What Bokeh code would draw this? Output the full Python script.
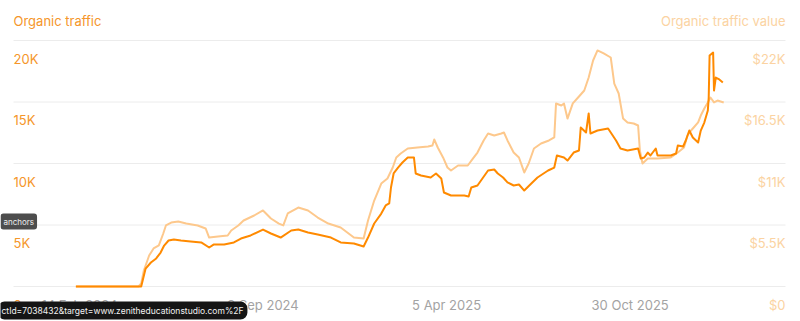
from datetime import datetime, timedelta
import pandas as pd
from bokeh.plotting import figure
from bokeh.core.properties import value as val
from bokeh.models import Range1d, Label, LabelSet, ColumnDataSource
from bokeh.embed import file_html
from bokeh.resources import INLINE

# ---------------- data ----------------
start_date = "2024-02-10"

traffic_days = [0, 74, 79, 85, 91, 96, 100, 105, 111, 119, 130, 142, 151, 156, 168, 179, 187, 198,
                212, 221, 232, 244, 252, 263, 274, 289, 300, 315, 326, 331, 338, 346, 351, 355, 357,
                360, 365, 370, 376, 383, 385, 391, 402, 408, 414, 417, 425, 440, 445, 448, 455, 467,
                474, 478, 484, 489, 496, 502, 508, 516, 523, 535, 542, 545, 553, 557, 564, 570, 572,
                578, 581, 583, 591, 603, 606, 612, 617, 625, 637, 640, 644, 648, 651, 657, 659, 674,
                680, 682, 688, 691, 695, 699, 705, 708, 712, 716, 717, 718, 722, 723, 725, 729, 733]
traffic = [0, 0, 1460, 1950, 2280, 2760, 3330, 3740, 3820, 3740, 3660, 3580, 3170, 3410, 3410, 3580,
           3900, 4150, 4630, 4310, 3980, 4550, 4630, 4390, 4230, 3980, 3580, 3500, 3250, 3980, 5120,
           5930, 6590, 6750, 8050, 9190, 9670, 10080, 10490, 10490, 9190, 9020, 8860, 9190, 8780,
           7640, 7400, 7400, 7320, 8050, 8210, 9430, 9510, 9190, 8860, 8460, 8210, 8290, 7800, 8370,
           8860, 9430, 9670, 10650, 10490, 10240, 10890, 11060, 12930, 12520, 14070, 12440, 12680,
           12850, 12520, 11870, 11220, 11060, 11220, 10410, 10490, 10890, 10650, 11220, 10650,
           10650, 10810, 11460, 11380, 11870, 12680, 12110, 11710, 12680, 13330, 14310, 15370,
           18780, 19020, 15930, 16990, 16830, 16590]

value_days = [0, 71, 74, 77, 83, 88, 94, 99, 102, 108, 116, 125, 138, 147, 151, 161, 172, 176, 184,
              190, 202, 212, 221, 230, 235, 240, 252, 263, 274, 286, 300, 315, 326, 331, 338, 346,
              353, 359, 363, 368, 376, 387, 399, 404, 406, 410, 416, 421, 425, 433, 444, 450, 455,
              462, 467, 474, 482, 485, 489, 496, 502, 508, 513, 519, 527, 536, 542, 544, 550, 553,
              557, 563, 569, 576, 581, 586, 591, 598, 606, 610, 615, 620, 625, 632, 637, 639, 642,
              648, 659, 674, 682, 689, 693, 697, 700, 705, 708, 712, 716, 719, 723, 727, 734]
value = [0, 0, 270, 1430, 2770, 3400, 3670, 4740, 5460, 5720, 5810, 5630, 5460, 5190, 4380, 4470,
         4560, 5010, 5460, 5900, 6350, 6800, 6080, 5630, 5460, 6530, 7060, 6800, 6170, 5630, 5280,
         4380, 4290, 5900, 7690, 9210, 9660, 10640, 11540, 11890, 12340, 12430, 12520, 12610,
         13150, 12430, 11540, 10640, 10370, 10820, 10820, 11450, 11980, 13060, 13680, 13500, 13680,
         13770, 13060, 11980, 11540, 10200, 11000, 12340, 12790, 13060, 13330, 16370, 16190, 16370,
         15020, 16370, 16900, 17530, 18690, 20210, 21110, 20840, 20480, 18150, 17260, 15020, 14670,
         14580, 14400, 12160, 11000, 11450, 11450, 11540, 11980, 12430, 13500, 13950, 14220, 14670,
         15290, 15920, 16460, 16900, 16460, 16630, 16460]

left_ticks = [0, 5000, 10000, 15000, 20000]
left_labels = ["0", "5K", "10K", "15K", "20K"]
right_ticks = [0, 5500, 11000, 16500, 22000]
right_labels = ["$0", "$5.5K", "$11K", "$16.5K", "$22K"]
date_ticks = ["2024-02-14", "2024-09-09", "2025-04-05", "2025-10-30"]
date_labels = ["14 Feb 2024", "9 Sep 2024", "5 Apr 2025", "30 Oct 2025"]

# ---------------- styling / layout ----------------
DARK = "#ff8a00"
LIGHT = "#fdc88c"
TEXT_DARK = "#f5962a"
TEXT_LIGHT = "#fbd3a2"
GRAY = "#a3a3a3"
FONT = "Inter"

W, H = 800, 321
GRID_L, GRID_R = 13, 785          # pixel extent of the grid lines / label edges

# vertical scale: 0 at 286px from top, 20K at 40px from top
px_per_unit = 246 / 20000.0
y_start = -(H - 286) / px_per_unit
y_end = 286 / px_per_unit
# horizontal scale: 0.8826 px per day, 9 Sep 2024 centred at x=262.5
ref = datetime(2024, 9, 9)
PX_DAY = 0.8826
REF_PX = 262.5
def px_to_date(px):
    return ref + timedelta(days=(px - REF_PX) / PX_DAY)

p = figure(width=W, height=H, output_backend="svg", toolbar_location=None,
           x_axis_location=None, y_axis_location=None,
           x_range=Range1d(px_to_date(0), px_to_date(W)), y_range=Range1d(y_start, y_end),
           min_border_left=0, min_border_right=0, min_border_top=0, min_border_bottom=0)
p.outline_line_color = None
p.background_fill_color = "white"
p.border_fill_color = "white"
p.extra_y_ranges = {"value": Range1d(y_start * 1.1, y_end * 1.1)}
p.xgrid.visible = False
p.ygrid.visible = False

# horizontal grid lines at the left-axis ticks
gsrc = ColumnDataSource(dict(x0=[px_to_date(GRID_L)] * len(left_ticks),
                             x1=[px_to_date(GRID_R)] * len(left_ticks),
                             y=left_ticks))
p.segment(x0="x0", x1="x1", y0="y", y1="y", source=gsrc, line_color="#ececec", line_width=1)

t0 = pd.Timestamp(start_date)
tsrc = ColumnDataSource(dict(x=t0 + pd.to_timedelta(traffic_days, unit="D"), y=traffic))
vsrc = ColumnDataSource(dict(x=t0 + pd.to_timedelta(value_days, unit="D"), y=value))

p.line("x", "y", source=vsrc, y_range_name="value", line_color=LIGHT, line_width=2,
       line_join="round")
p.line("x", "y", source=tsrc, line_color=DARK, line_width=2, line_join="round")

# tick labels
lsrc = ColumnDataSource(dict(x=[GRID_L] * len(left_ticks), y=left_ticks, t=left_labels))
p.add_layout(LabelSet(x="x", y="y", text="t", source=lsrc, x_units="screen",
                      text_align="left", text_baseline="middle", y_offset=-18,
                      text_color=TEXT_DARK, text_font=val(FONT), text_font_size="13px"))
rsrc = ColumnDataSource(dict(x=[GRID_R] * len(right_ticks), y=right_ticks, t=right_labels))
p.add_layout(LabelSet(x="x", y="y", text="t", source=rsrc, x_units="screen",
                      y_range_name="value",
                      text_align="right", text_baseline="middle", y_offset=-18,
                      text_color=TEXT_LIGHT, text_font=val(FONT), text_font_size="13px"))
dsrc = ColumnDataSource(dict(x=pd.to_datetime(date_ticks), y=[0] * len(date_ticks), t=date_labels))
p.add_layout(LabelSet(x="x", y="y", text="t", source=dsrc,
                      text_align="center", text_baseline="middle", y_offset=-18,
                      text_color=GRAY, text_font=val(FONT), text_font_size="13px"))

# titles
p.add_layout(Label(x=GRID_L, y=H - 20, x_units="screen", y_units="screen", text="Organic traffic",
                   text_align="left", text_baseline="middle", text_color=TEXT_DARK,
                   text_font=FONT, text_font_size="13px"))
p.add_layout(Label(x=GRID_R, y=H - 20, x_units="screen", y_units="screen",
                   text="Organic traffic value", text_align="right", text_baseline="middle",
                   text_color=TEXT_LIGHT, text_font=FONT, text_font_size="13px"))

# overlays present in the screenshot (tooltip and browser status bar)
p.add_layout(Label(x=0, y=H - 221, x_units="screen", y_units="screen", text="anchors",
                   text_align="left", text_baseline="middle", text_color="#eeeeee",
                   text_font=FONT, text_font_size="8px", background_fill_color="#4d4d4d",
                   padding=3, border_radius=3))
p.add_layout(Label(x=-3, y=H - 310, x_units="screen", y_units="screen",
                   text="ctId=7038432&target=www.zenitheducationstudio.com%2F",
                   text_align="left", text_baseline="middle", text_color="#f2f2f2",
                   text_font=FONT, text_font_size="8.5px", background_fill_color="#151515",
                   padding=4, border_radius=7))

open("out.html", "w").write(file_html(p, INLINE))
